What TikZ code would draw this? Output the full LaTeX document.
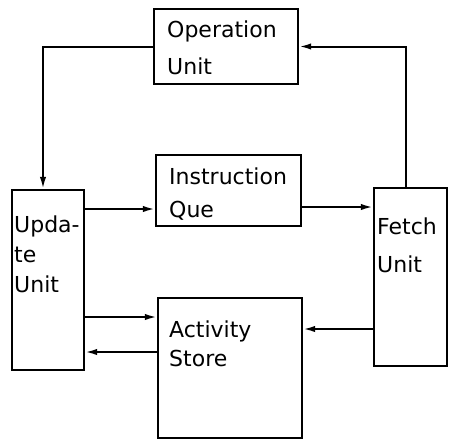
\documentclass[tikz,border=0pt]{standalone}
\usepackage{fontspec}
\setmainfont{DejaVu Sans}
\usetikzlibrary{positioning,arrows.meta}
\newcommand\lblfont[1]{\fontsize{11}{#1}\selectfont}
\begin{document}
\begin{tikzpicture}[x=0.5pt,y=-0.5pt,
    box/.style={draw,line width=1.2pt,inner sep=0pt},
    lbl/.style={anchor=north west,inner sep=0pt,align=left},
    >={Latex[length=6pt,width=3.2pt]}]
    \useasboundingbox (0,0) rectangle (449,440);
    \node[box,minimum width=72pt,minimum height=37.5pt] (op) at (226,46.5) {};
    \node[box,minimum width=72.5pt,minimum height=35.5pt] (iq) at (228.5,190.5) {};
    \node[box,minimum width=36pt,minimum height=90pt] (upd) at (48,280) {};
    \node[box,minimum width=36.5pt,minimum height=89pt] (fet) at (410.5,277) {};
    \node[box,minimum width=72pt,minimum height=70pt] (act) at (230,368) {};

    \node[lbl,font={\lblfont{18.5}}] (opt) at ([shift={(14,13)}]op.north west) {Operation\\Unit};
    \node[lbl,font={\lblfont{16.5}}] (iqt) at ([shift={(14,14)}]iq.north west) {Instruction\\Que};
    \node[lbl,font={\lblfont{15}}] (updt) at ([shift={(3,27)}]upd.north west) {Upda-\\te\\Unit};
    \node[lbl,font={\lblfont{19}}] (fett) at ([shift={(4,31)}]fet.north west) {Fetch\\Unit};
    \node[lbl,font={\lblfont{14.5}}] (actt) at ([shift={(12,24)}]act.north west) {Activity\\Store};

    \draw[->,line width=1pt] (op.west) -| ([xshift=-2.5pt]upd.north);
    \draw[->,line width=1pt] ([xshift=-2.5pt]fet.north) |- (op.east);
    \foreach \u / \v / \y in {upd.east/iq.west/209,iq.east/fet.west/207,upd.east/act.west/317,act.west/upd.east/352,fet.west/act.east/329}
        \draw[->,line width=1pt] (\u |- 0,\y) -- (\v |- 0,\y);
\end{tikzpicture}
\end{document}
